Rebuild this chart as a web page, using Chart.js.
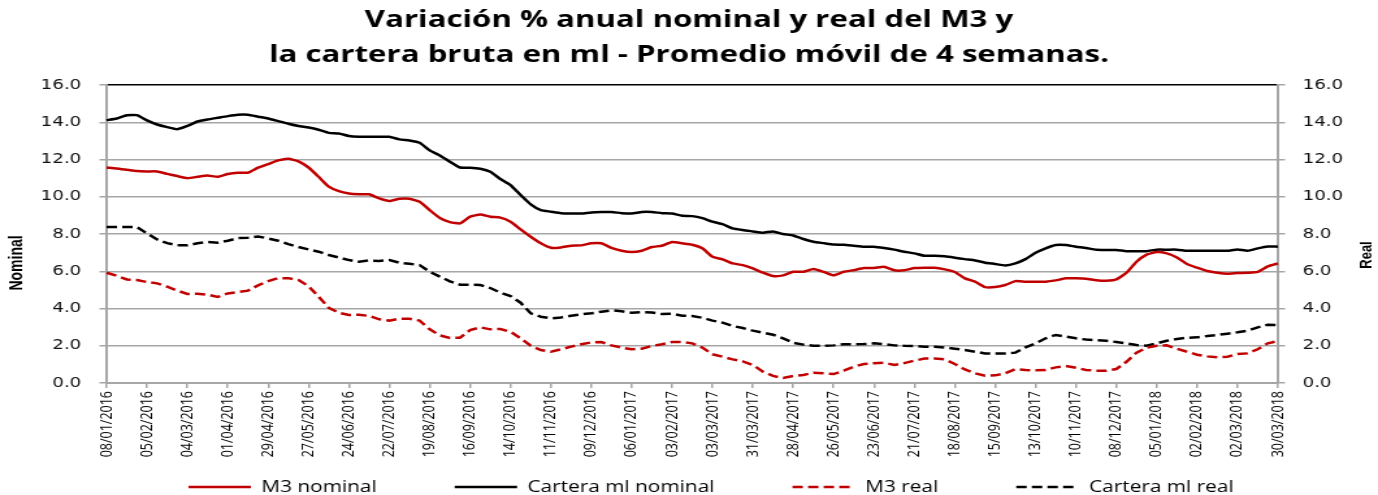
<!DOCTYPE html>
<html>
<head>
<meta charset="utf-8">
<script src="https://cdn.jsdelivr.net/npm/chart.js@4.4.1/dist/chart.umd.min.js"></script>
<style>
  html, body { margin: 0; padding: 0; background: #ffffff; overflow: hidden; }
  #c { display: block; width: 1378px !important; height: 495px !important; }
</style>
</head>
<body>
<canvas id="c" width="1060" height="495"></canvas>
<script>
// ---- data (weekly, 08/01/2016 .. 30/03/2018) ----
const tickLabels = [
  '08/01/2016','05/02/2016','04/03/2016','01/04/2016','29/04/2016','27/05/2016',
  '24/06/2016','22/07/2016','19/08/2016','16/09/2016','14/10/2016','11/11/2016',
  '09/12/2016','06/01/2017','03/02/2017','03/03/2017','31/03/2017','28/04/2017',
  '26/05/2017','23/06/2017','21/07/2017','18/08/2017','15/09/2017','13/10/2017',
  '10/11/2017','08/12/2017','05/01/2018','02/02/2018','02/03/2018','30/03/2018'
];

const m3Nominal = [
  11.57,11.52,11.45,11.38,11.36,11.36,11.23,11.11,11.00,11.07,
  11.14,11.07,11.22,11.29,11.29,11.56,11.75,11.95,12.04,11.90,
  11.57,11.07,10.54,10.30,10.18,10.14,10.13,9.91,9.77,9.89,
  9.89,9.73,9.28,8.86,8.64,8.57,8.93,9.05,8.93,8.88,
  8.66,8.25,7.85,7.50,7.26,7.28,7.37,7.39,7.50,7.50,
  7.25,7.10,7.03,7.10,7.30,7.37,7.57,7.50,7.42,7.23,
  6.78,6.64,6.42,6.33,6.15,5.92,5.74,5.78,5.97,5.97,
  6.12,5.97,5.78,5.97,6.06,6.17,6.17,6.24,6.05,6.05,
  6.17,6.19,6.19,6.10,5.96,5.62,5.44,5.15,5.15,5.26,
  5.47,5.44,5.44,5.44,5.51,5.62,5.62,5.60,5.52,5.49,
  5.56,5.92,6.51,6.89,7.03,6.96,6.74,6.39,6.19,6.01,
  5.92,5.87,5.90,5.92,5.97,6.26,6.42
];

const carteraNominal = [
  14.11,14.20,14.38,14.38,14.10,13.88,13.74,13.63,13.80,14.04,
  14.15,14.24,14.33,14.40,14.40,14.30,14.20,14.06,13.92,13.80,
  13.72,13.60,13.43,13.40,13.26,13.22,13.22,13.22,13.22,13.08,
  13.02,12.90,12.49,12.22,11.88,11.57,11.56,11.50,11.34,10.95,
  10.63,10.09,9.59,9.28,9.20,9.12,9.10,9.10,9.16,9.18,
  9.18,9.12,9.10,9.18,9.18,9.12,9.10,8.98,8.96,8.85,
  8.66,8.53,8.30,8.21,8.14,8.07,8.14,8.00,7.92,7.73,
  7.58,7.51,7.44,7.42,7.37,7.32,7.32,7.25,7.16,7.05,
  6.96,6.83,6.83,6.80,6.73,6.65,6.58,6.46,6.39,6.31,
  6.42,6.65,6.99,7.23,7.41,7.41,7.32,7.25,7.15,7.14,
  7.14,7.08,7.08,7.08,7.16,7.16,7.16,7.10,7.10,7.10,
  7.10,7.10,7.17,7.10,7.23,7.33,7.32
];

const m3Real = [
  5.92,5.76,5.56,5.53,5.42,5.35,5.17,4.96,4.78,4.79,
  4.74,4.62,4.81,4.88,4.96,5.24,5.47,5.63,5.63,5.53,
  5.20,4.63,4.04,3.77,3.65,3.67,3.60,3.42,3.35,3.45,
  3.45,3.35,2.88,2.56,2.42,2.43,2.84,2.99,2.88,2.90,
  2.75,2.40,2.00,1.77,1.68,1.81,1.95,2.08,2.18,2.20,
  2.02,1.90,1.81,1.84,1.99,2.08,2.20,2.20,2.13,1.90,
  1.54,1.41,1.27,1.16,0.97,0.61,0.38,0.27,0.38,0.43,
  0.55,0.52,0.48,0.66,0.88,1.02,1.06,1.09,0.97,1.07,
  1.20,1.31,1.32,1.27,1.02,0.73,0.52,0.39,0.41,0.52,
  0.75,0.70,0.68,0.70,0.84,0.91,0.82,0.70,0.66,0.66,
  0.75,1.14,1.63,1.90,2.00,2.02,1.84,1.68,1.52,1.43,
  1.38,1.41,1.56,1.59,1.81,2.13,2.25
];

const carteraReal = [
  8.37,8.37,8.37,8.37,8.03,7.71,7.51,7.39,7.39,7.50,
  7.57,7.53,7.64,7.78,7.80,7.87,7.76,7.64,7.46,7.30,
  7.17,7.05,6.87,6.74,6.60,6.51,6.58,6.55,6.60,6.46,
  6.40,6.33,5.97,5.71,5.46,5.28,5.28,5.26,5.10,4.85,
  4.67,4.31,3.74,3.56,3.47,3.52,3.61,3.69,3.74,3.83,
  3.90,3.85,3.77,3.81,3.79,3.70,3.72,3.61,3.60,3.50,
  3.35,3.24,3.06,2.95,2.81,2.70,2.59,2.40,2.16,2.06,
  2.00,2.00,2.02,2.08,2.08,2.09,2.13,2.08,2.02,2.00,
  1.99,1.95,1.95,1.91,1.84,1.77,1.68,1.59,1.59,1.59,
  1.63,1.91,2.13,2.40,2.58,2.49,2.40,2.33,2.30,2.27,
  2.20,2.13,2.04,2.00,2.13,2.27,2.36,2.43,2.45,2.52,
  2.58,2.65,2.72,2.81,2.99,3.13,3.11
];

// weekly category labels (every Friday from the first tick date)
const weeks = [];
(function () {
  const start = Date.UTC(2016, 0, 8);
  for (let i = 0; i < m3Nominal.length; i++) {
    const d = new Date(start + i * 7 * 86400000);
    const dd = String(d.getUTCDate()).padStart(2, '0');
    const mm = String(d.getUTCMonth() + 1).padStart(2, '0');
    weeks.push(dd + '/' + mm + '/' + d.getUTCFullYear());
  }
})();

const RED = '#c00000';
const BLACK = '#000000';
const GRID = '#a6a6a6';
const DASH = [8, 4];
const LEG_DX = 17;

const axisTitles = {
  id: 'axisTitles',
  afterDraw(chart) {
    const ctx = chart.ctx;
    ctx.save();
    ctx.setLineDash([]);
    ctx.fillStyle = '#000';
    ctx.textAlign = 'center';
    ctx.textBaseline = 'middle';
    ctx.font = 'bold 14px "Liberation Sans", Arial, sans-serif';
    ctx.translate(13, 263);
    ctx.rotate(-Math.PI / 2);
    ctx.fillText('Nominal', 0, 0);
    ctx.restore();
    ctx.save();
    ctx.fillStyle = '#000';
    ctx.textAlign = 'center';
    ctx.textBaseline = 'middle';
    ctx.font = 'bold 13px "Liberation Sans", Arial, sans-serif';
    ctx.translate(1051, 255);
    ctx.rotate(-Math.PI / 2);
    ctx.fillText('Real', 0, 0);
    ctx.restore();
  }
};

// legend sits below the rotated x-axis labels
const legendShift = {
  id: 'legendShift',
  afterLayout(chart) {
    const l = chart.legend;
    if (!l) return;
    l.left += LEG_DX; l.right += LEG_DX;
    l.top = 487 - 68; l.bottom = 495;
  }
};

const yTickCb = v => Number(v).toFixed(1);

// software (CPU) canvas so that dashed strokes are rasterised reliably
const ctx2d = document.getElementById('c').getContext('2d', { willReadFrequently: true });

new Chart(ctx2d, {
  type: 'line',
  data: {
    labels: weeks,
    datasets: [
      { label: 'M3 nominal', data: m3Nominal, borderColor: RED, backgroundColor: RED, borderWidth: 2.5, tension: 0.15, yAxisID: 'y' },
      { label: 'Cartera ml nominal', data: carteraNominal, borderColor: BLACK, backgroundColor: BLACK, borderWidth: 2.5, tension: 0.15, yAxisID: 'y' },
      { label: 'M3 real', data: m3Real, borderColor: RED, backgroundColor: RED, borderWidth: 2.5, tension: 0, borderDash: DASH, yAxisID: 'y1' },
      { label: 'Cartera ml real', data: carteraReal, borderColor: BLACK, backgroundColor: BLACK, borderWidth: 2.5, tension: 0, borderDash: DASH, yAxisID: 'y1' }
    ]
  },
  options: {
    responsive: false,
    animation: false,
    devicePixelRatio: 1,
    layout: { padding: 0 },
    elements: {
      point: { radius: 0, hoverRadius: 0 }
    },
    plugins: {
      title: {
        display: true,
        text: ['Variación % anual nominal y real del M3 y', 'la cartera bruta en ml - Promedio móvil de 4 semanas.'],
        color: '#000',
        font: { family: '"Open Sans", sans-serif', size: 24, weight: 'bold', lineHeight: 1.45 },
        padding: { top: 3, bottom: 12.4 }
      },
      legend: {
        position: 'bottom',
        maxHeight: 36,
        labels: {
          usePointStyle: true,
          pointStyle: 'line',
          pointStyleWidth: 48,
          color: '#000',
          font: { family: '"Open Sans", sans-serif', size: 16 },
          padding: 60,
          generateLabels: chart => chart.data.datasets.map((ds, i) => ({
            text: ds.label,
            datasetIndex: i,
            fillStyle: ds.borderColor,
            strokeStyle: ds.borderColor,
            fontColor: '#000',
            lineWidth: ds.borderWidth,
            lineDash: ds.borderDash || [],
            lineCap: 'butt',
            pointStyle: 'line',
            hidden: !chart.isDatasetVisible(i)
          }))
        }
      },
      tooltip: { enabled: false }
    },
    scales: {
      x: {
        type: 'category',
        grid: { drawOnChartArea: false, drawTicks: true, tickLength: 5, color: GRID, lineWidth: 1.5 },
        border: { color: GRID, width: 2 },
        ticks: {
          autoSkip: false, maxRotation: 90, minRotation: 90, padding: 3,
          color: '#000',
          font: { family: '"Open Sans", sans-serif', size: 12.5 },
          callback: (v, i) => (i % 4 === 0 ? tickLabels[i / 4] : null)
        },
        afterFit: s => { s.height = 76; }
      },
      y: {
        position: 'left', min: 0, max: 16,
        ticks: { stepSize: 2, callback: yTickCb, color: '#111', padding: 14, font: { family: '"DejaVu Sans", sans-serif', size: 14 } },
        grid: { color: c => (c.tick && c.tick.value === 16 ? '#000' : GRID), tickColor: GRID, lineWidth: 1.5, tickLength: 5.5 },
        border: { color: GRID, width: 2 },
        afterFit: s => { s.width = 82; }
      },
      y1: {
        position: 'right', min: 0, max: 16,
        ticks: { stepSize: 2, callback: yTickCb, color: '#111', padding: 13.5, font: { family: '"DejaVu Sans", sans-serif', size: 14 } },
        grid: { drawOnChartArea: false, color: GRID, lineWidth: 1.5, tickLength: 5.5 },
        border: { color: GRID, width: 2 },
        afterFit: s => { s.width = 77; }
      }
    }
  },
  plugins: [axisTitles, legendShift]
});
</script>
</body>
</html>
